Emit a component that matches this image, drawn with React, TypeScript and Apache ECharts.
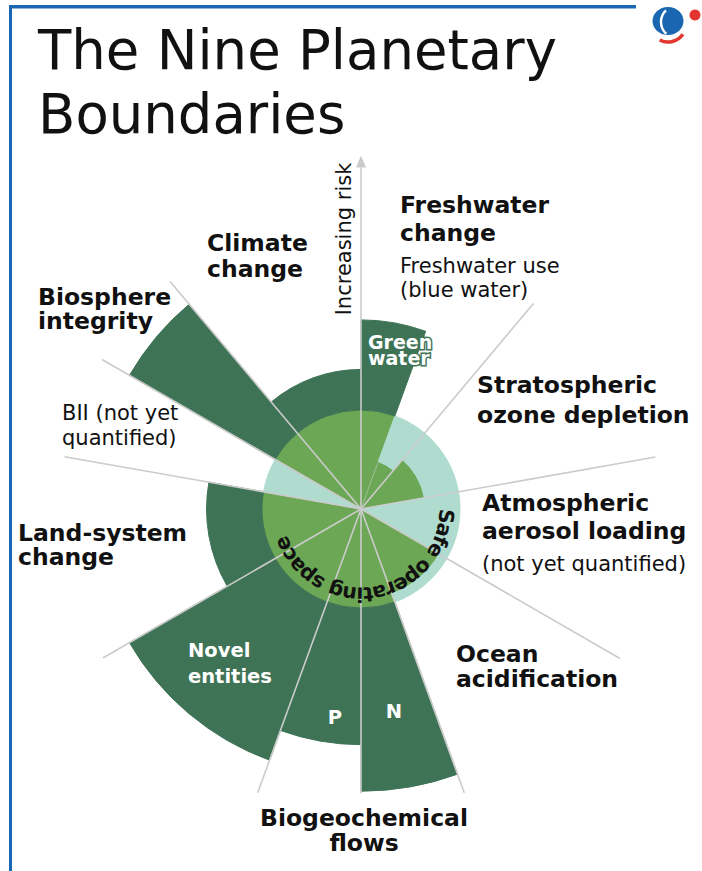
import React, { useEffect, useRef } from "react";
import * as echarts from "echarts";

// 18 sub-sectors of 20° each, clockwise from the top
const segmentNames = [
  "Freshwater change – green water",
  "Freshwater change – blue water",
  "Stratospheric ozone depletion (a)",
  "Stratospheric ozone depletion (b)",
  "Atmospheric aerosol loading (a)",
  "Atmospheric aerosol loading (b)",
  "Ocean acidification (a)",
  "Ocean acidification (b)",
  "Biogeochemical flows – N",
  "Biogeochemical flows – P",
  "Novel entities (a)",
  "Novel entities (b)",
  "Land-system change (a)",
  "Land-system change (b)",
  "Biosphere integrity – BII",
  "Biosphere integrity – genetic diversity",
  "Climate change (a)",
  "Climate change (b)",
];
// control variable relative to the safe boundary (1 = boundary); null = not yet quantified
const segmentValues: (number | null)[] = [
  1.91, 0.51, 0.65, 0.65, null, null, 0.91, 0.91, 2.85, 2.38, 2.7, 2.7, 1.56, 1.56, null, 2.7, 1.41, 1.41,
];
const SAFE_BOUNDARY = 1;
const RADIUS_MAX = 3.03;

// spokes (angle in degrees clockwise from top)
const spokeAngles = [0, 20, 40, 80, 120, 160, 180, 200, 240, 280, 300, 320];
const spokeReach = [3.45, 0.5, 2.71, 3.02, 3.02, 3.05, 2.87, 3.05, 3.01, 3.04, 3.02, 3.0];
const spokeFaint = [false, true, false, false, false, false, false, false, false, false, false, false];

const CENTER: [number, number] = [361, 509];
const DARK = "#3e7356";
const MID = "#6ba754";
const TEAL = "#afdccf";
const SPOKE = "#cbcbcb";
const BLUE = "#1a66b0";
const RED = "#e2362f";
const FONT = '"DejaVu Sans", "Noto Sans", sans-serif';

type Lbl = {
  t: string;
  x: number;
  y: number;
  s: number;
  lh?: number;
  bold?: boolean;
  c?: string;
  align?: string;
  stroke?: string;
  rot?: number;
};
const B = 23.5;
const R = 21;
const labels: Lbl[] = [
  { t: "The Nine Planetary\nBoundaries", x: 38, y: 82, s: 54.5, lh: 64 },
  { t: "Freshwater\nchange", x: 400, y: 219, s: B, lh: 28, bold: true },
  { t: "Freshwater use\n(blue water)", x: 400, y: 278, s: R, lh: 24 },
  { t: "Stratospheric\nozone depletion", x: 477, y: 400, s: B, lh: 30, bold: true },
  { t: "Atmospheric\naerosol loading", x: 482, y: 517, s: B, lh: 28, bold: true },
  { t: "(not yet quantified)", x: 482, y: 564, s: R },
  { t: "Ocean\nacidification", x: 456, y: 666.5, s: B, lh: 25, bold: true },
  { t: "Biogeochemical\nflows", x: 364, y: 830.5, s: B, lh: 25, bold: true, align: "center" },
  { t: "Land-system\nchange", x: 18, y: 545, s: B, lh: 24, bold: true },
  { t: "Biosphere\nintegrity", x: 38, y: 309, s: B, lh: 24, bold: true },
  { t: "BII (not yet\nquantified)", x: 62, y: 425.5, s: R, lh: 25 },
  { t: "Climate\nchange", x: 207, y: 256, s: B, lh: 26, bold: true },
  { t: "Green\nwater", x: 368, y: 350, s: 19, lh: 16.5, bold: true, c: "#ffffff", stroke: DARK },
  { t: "Novel\nentities", x: 188, y: 663, s: 19.5, lh: 26, bold: true, c: "#ffffff" },
  { t: "P", x: 335, y: 717, s: 19.5, bold: true, c: "#ffffff", align: "center" },
  { t: "N", x: 394, y: 711, s: 19.5, bold: true, c: "#ffffff", align: "center" },
  { t: "Increasing risk", x: 344, y: 239, s: 21, align: "center", rot: Math.PI / 2 },
];

const curvedLabel = "Safe operating space";

function curvedText(text: string, cx: number, cy: number, r: number, startDeg: number, endDeg: number, size: number) {
  const canvas = document.createElement("canvas");
  const ctx = canvas.getContext("2d") as CanvasRenderingContext2D;
  ctx.font = `bold ${size}px ${FONT}`;
  const chars = Array.from(text);
  const widths = chars.map((ch) => ctx.measureText(ch).width);
  let acc = 0;
  const centers: number[] = [];
  widths.forEach((w) => {
    centers.push(acc + w / 2);
    acc += w;
  });
  const span = centers[centers.length - 1] - centers[0];
  return chars.map((ch, i) => {
    const deg = startDeg + ((centers[i] - centers[0]) / span) * (endDeg - startDeg);
    const t = (deg * Math.PI) / 180;
    return {
      type: "text",
      x: cx + r * Math.sin(t),
      y: cy - r * Math.cos(t),
      rotation: -t,
      z: 50,
      silent: true,
      style: {
        text: ch,
        fill: "#111111",
        fontSize: size,
        fontWeight: "bold",
        fontFamily: FONT,
        align: "center",
        verticalAlign: "middle",
      },
    };
  });
}

export default function App() {
  const ref = useRef<HTMLDivElement>(null);
  useEffect(() => {
    if (!ref.current) return;
    const chart = echarts.init(ref.current, undefined, { renderer: "svg" });

    // split each value into the part inside the boundary, the remaining safe margin and the overshoot
    const safePart = segmentValues.map((v) => (v == null ? SAFE_BOUNDARY : Math.min(v, SAFE_BOUNDARY)));
    const marginPart = segmentValues.map((v) => (v == null || v >= SAFE_BOUNDARY ? "-" : SAFE_BOUNDARY - v));
    const overPart = segmentValues.map((v) => (v == null || v <= SAFE_BOUNDARY ? "-" : v - SAFE_BOUNDARY));

    const barBase = {
      type: "bar",
      coordinateSystem: "polar",
      polarIndex: 0,
      stack: "pb",
      barCategoryGap: "0%",
      barGap: "0%",
      silent: true,
      z: 2,
    };

    const hiddenAxis = {
      axisLine: { show: false },
      axisTick: { show: false },
      axisLabel: { show: false },
      splitLine: { show: false },
      splitArea: { show: false },
    };

    const textEls = labels.map((l) => ({
      type: "text",
      x: l.x,
      y: l.y,
      rotation: l.rot || 0,
      z: 60,
      silent: true,
      style: {
        text: l.t,
        fill: l.c || "#111111",
        fontSize: l.s,
        lineHeight: l.lh || Math.round(l.s * 1.2),
        fontWeight: l.bold ? "bold" : "normal",
        fontFamily: FONT,
        align: l.align || "left",
        verticalAlign: "middle",
        stroke: l.stroke,
        lineWidth: l.stroke ? 3 : 0,
      },
    }));

    const option: any = {
      animation: false,
      backgroundColor: "#ffffff",
      polar: [
        { center: CENTER, radius: [0, 300] },
        { center: CENTER, radius: [0, 300] },
      ],
      angleAxis: [
        {
          polarIndex: 0,
          type: "category",
          data: segmentNames,
          startAngle: 90,
          clockwise: true,
          boundaryGap: true,
          ...hiddenAxis,
        },
        {
          polarIndex: 1,
          type: "value",
          min: 0,
          max: 360,
          startAngle: 90,
          clockwise: true,
          ...hiddenAxis,
        },
      ],
      radiusAxis: [
        { polarIndex: 0, type: "value", min: 0, max: RADIUS_MAX, ...hiddenAxis },
        { polarIndex: 1, type: "value", min: 0, max: RADIUS_MAX, ...hiddenAxis },
      ],
      series: [
        {
          ...barBase,
          name: "Within boundary",
          data: safePart.map((v, i) => ({
            value: v,
            itemStyle: {
              color: segmentValues[i] == null ? TEAL : MID,
              borderColor: segmentValues[i] == null ? TEAL : MID,
              borderWidth: 1,
            },
          })),
        },
        {
          ...barBase,
          name: "Safe margin",
          data: marginPart,
          itemStyle: { color: TEAL, borderColor: TEAL, borderWidth: 1 },
        },
        {
          ...barBase,
          name: "Beyond boundary",
          data: overPart,
          itemStyle: { color: DARK, borderColor: DARK, borderWidth: 1 },
        },
        {
          type: "custom",
          coordinateSystem: "polar",
          polarIndex: 1,
          silent: true,
          z: 10,
          data: spokeAngles.map((a, i) => [spokeReach[i], a, spokeFaint[i] ? 1 : 0]),
          renderItem: (params: any, api: any) => {
            const reach = api.value(0);
            const ang = api.value(1);
            const faint = api.value(2) === 1;
            const p0 = api.coord([0, ang]);
            const p1 = api.coord([reach, ang]);
            const children: any[] = [
              {
                type: "line",
                shape: { x1: p0[0], y1: p0[1], x2: p1[0], y2: p1[1] },
                style: { stroke: faint ? "rgba(215,215,215,0.5)" : SPOKE, lineWidth: faint ? 1 : 1.6 },
              },
            ];
            if (ang === 0) {
              const tip = api.coord([reach + 0.12, ang]);
              const dx = tip[0] - p1[0];
              const dy = tip[1] - p1[1];
              const len = Math.sqrt(dx * dx + dy * dy) || 1;
              const nx = (-dy / len) * 5;
              const ny = (dx / len) * 5;
              children.push({
                type: "polygon",
                shape: {
                  points: [
                    [tip[0], tip[1]],
                    [p1[0] + nx, p1[1] + ny],
                    [p1[0] - nx, p1[1] - ny],
                  ],
                },
                style: { fill: SPOKE },
              });
            }
            return { type: "group", children };
          },
        },
      ],
      graphic: [
        // frame
        { type: "rect", z: 40, silent: true, shape: { x: 9, y: 5, width: 627, height: 3.5 }, style: { fill: BLUE } },
        { type: "rect", z: 40, silent: true, shape: { x: 9, y: 5, width: 3, height: 866 }, style: { fill: BLUE } },
        // logo
        { type: "ellipse", z: 40, silent: true, shape: { cx: 668, cy: 21, rx: 15.5, ry: 14 }, style: { fill: BLUE } },
        {
          type: "arc",
          z: 41,
          silent: true,
          shape: { cx: 677, cy: 22, r: 16, startAngle: 2.3, endAngle: 3.95, clockwise: true },
          style: { stroke: "#ffffff", lineWidth: 2.4, fill: "none" },
        },
        {
          type: "arc",
          z: 41,
          silent: true,
          shape: { cx: 668, cy: 24, r: 18, startAngle: 0.6, endAngle: 2.05, clockwise: true },
          style: { stroke: RED, lineWidth: 3.5, fill: "none" },
        },
        { type: "circle", z: 41, silent: true, shape: { cx: 695, cy: 15, r: 5.5 }, style: { fill: RED } },
        ...curvedText(curvedLabel, CENTER[0], CENTER[1], 85.5, 95, 246, 20.5),
        ...textEls,
      ],
    };

    chart.setOption(option);
    return () => chart.dispose();
  }, []);

  return (
    <div
      ref={ref}
      style={{ position: "absolute", left: 0, top: 0, width: 702, height: 871, background: "#ffffff" }}
    />
  );
}
